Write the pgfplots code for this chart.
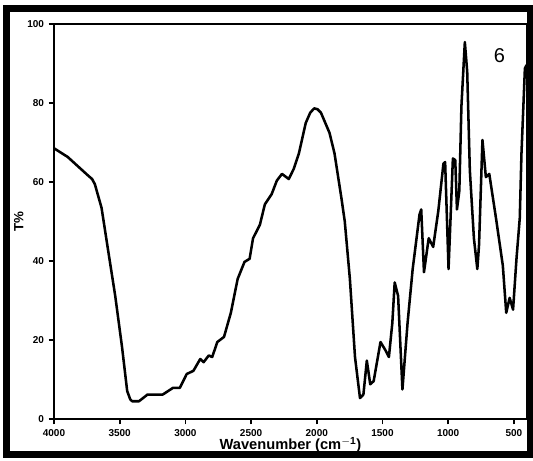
\documentclass[border=0pt]{standalone}
\usepackage{fontspec}
\setmainfont{Liberation Sans}
\usepackage{pgfplots}
\pgfplotsset{compat=1.18}

\begin{document}
\begin{tikzpicture}
\begin{axis}[
  scale only axis,
  width=354.75pt, height=296pt,
  x dir=reverse,
  xmin=400, xmax=4000,
  ymin=0, ymax=100,
  xtick={500,1000,...,4000},
  ytick={0,20,...,100},
  tick pos=left,
  tick align=outside,
  major tick length=4pt,
  axis line style={line width=1.3pt},
  every tick/.style={line width=1.3pt, black},
  tick label style={font=\bfseries\fontsize{7.5}{8}\selectfont},
  /pgf/number format/assume math mode=true,
  /pgf/number format/1000 sep={},
  xlabel={\bfseries Wavenumber (cm$^{\mathbf{-1}}$)},
  ylabel={\bfseries T\%},
  xlabel style={font=\fontsize{11}{12}\selectfont, yshift=6pt},
  ylabel style={font=\fontsize{10}{12}\selectfont, yshift=-4pt},
  clip=false,
]
\addplot[black, line width=1.9pt, line join=round] coordinates {
  (4000,68.6) (3896,66.4) (3741,61.7) (3710,60.8) (3689,59.5) (3638,53.5) (3586,42.3)
  (3534,31.2) (3482,18.2) (3443,7.1) (3420,5.0) (3405,4.5) (3353,4.5) (3288,6.2)
  (3172,6.2) (3094,7.9) (3042,7.9) (2990,11.4) (2939,12.2) (2887,15.2)
  (2861,14.4) (2822,16.1) (2796,15.7) (2757,19.5) (2706,20.8) (2654,26.9)
  (2602,35.5) (2550,39.8) (2511,40.6) (2485,45.8) (2433,49.2) (2395,54.4)
  (2343,57.0) (2304,60.4) (2265,62.1) (2213,60.8) (2175,63.4) (2136,67.3)
  (2084,75.0) (2050,77.6) (2020,78.7) (1995,78.5) (1968,77.6) (1903,72.5) (1865,67.3) (1813,56.1)
  (1787,50.1) (1748,35.5) (1709,15.7) (1671,5.3) (1645,6.2) (1619,14.8)
  (1593,8.8) (1567,9.6) (1515,19.5) (1477,17.4) (1451,15.7) (1425,24.3)
  (1407,34.6) (1381,31.2) (1348,7.5) (1309,24.3) (1270,38.0) (1218,51.8)
  (1205,53.1) (1184,37.2) (1148,45.8) (1114,43.6) (1075,52.7) (1036,64.7)
  (1023,65.1) (997,38.0) (964,66.0) (946,65.6) (933,53.1) (915,57.8)
  (899,79.3) (873,95.5) (855,88.0) (835,63.0) (804,45.8) (778,38.0)
  (765,44.1) (739,70.7) (713,61.3) (687,62.1) (636,50.9) (584,38.9)
  (558,26.9) (532,30.7) (506,27.7) (480,40.6) (455,50.9) (442,67.3)
  (416,88.8) (403,89.7)
};
\node[font=\fontsize{15}{16}\selectfont, text=black] at (axis cs:609,92) {6};
\end{axis}
\draw[line width=5.25pt] (-35.25pt,-27pt) rectangle (357pt,307.5pt);
\pgfresetboundingbox
\path[use as bounding box] (-40.5pt,-31.5pt) rectangle (359.25pt,314.25pt);
\end{tikzpicture}
\end{document}
